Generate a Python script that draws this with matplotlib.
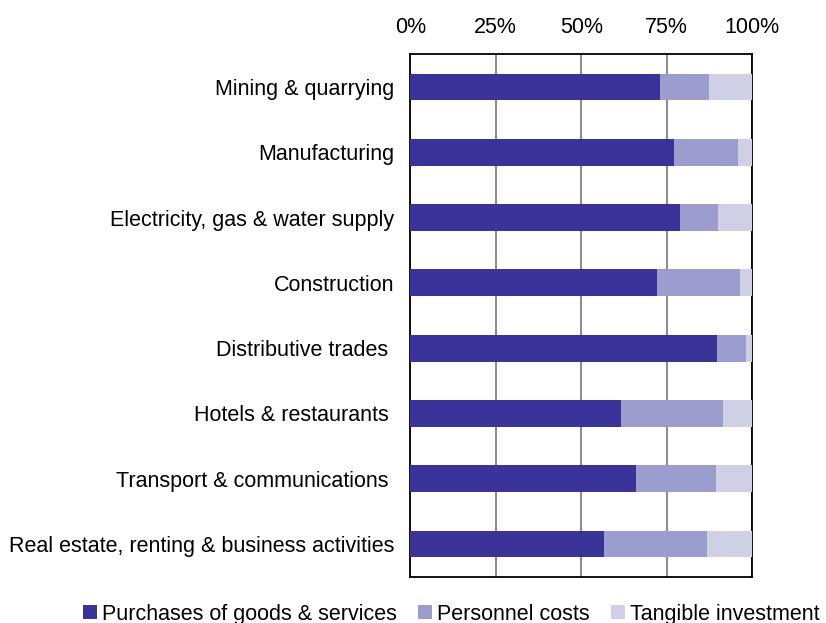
import numpy as np
import matplotlib.pyplot as plt

plt.rcParams['font.family'] = ['Liberation Sans', 'DejaVu Sans']

# sectors, top to bottom
sectors = ["Mining & quarrying", "Manufacturing", "Electricity, gas & water supply",
           "Construction", "Distributive trades ", "Hotels & restaurants ",
           "Transport & communications ", "Real estate, renting & business activities"]

# share of total expenditure (%)
purchases = [73.0, 77.1, 78.9, 72.2, 89.7, 61.6, 66.0, 56.6]
personnel = [14.4, 18.7, 11.1, 24.2, 8.5, 29.8, 23.4, 30.2]
tangible = [12.6, 4.2, 10.0, 3.6, 1.8, 8.6, 10.6, 13.2]

series = [("Purchases of goods & services", purchases, "#3a3399"),
          ("Personnel costs", personnel, "#9c9dcf"),
          ("Tangible investment", tangible, "#cfcfe6")]

fig = plt.figure(figsize=(8.26, 6.23), dpi=100)
ax = fig.add_axes([0.4967, 0.0743, 0.4140, 0.8385])

y = np.arange(len(sectors))
left = np.zeros(len(sectors))
for name, vals, col in series:
    ax.barh(y, vals, left=left, height=0.41, color=col, label=name, zorder=3)
    left += np.array(vals)

ax.set_xlim(0, 100)
ax.set_ylim(len(sectors) - 0.5, -0.5)
ax.set_yticks(y)
ax.set_yticklabels(sectors, fontsize=15.5)
ax.set_xticks([0, 25, 50, 75, 100])
ax.set_xticklabels(["0%", "25%", "50%", "75%", "100%"], fontsize=15.5)
ax.xaxis.tick_top()
ax.tick_params(axis='x', length=0, pad=12)
ax.tick_params(axis='y', length=0, pad=11.5)
ax.grid(axis='x', color='#808080', linewidth=1.3, zorder=0)
for s in ax.spines.values():
    s.set_color('black')
    s.set_linewidth(1.3)

fig.legend(loc='center', bbox_to_anchor=(0.5466, 0.014), ncol=3, frameon=False,
           fontsize=15.5, handlelength=0.65, handleheight=0.65, handletextpad=0.23,
           columnspacing=1.0, borderaxespad=0, borderpad=0)

fig.savefig("out.png", dpi=100)
